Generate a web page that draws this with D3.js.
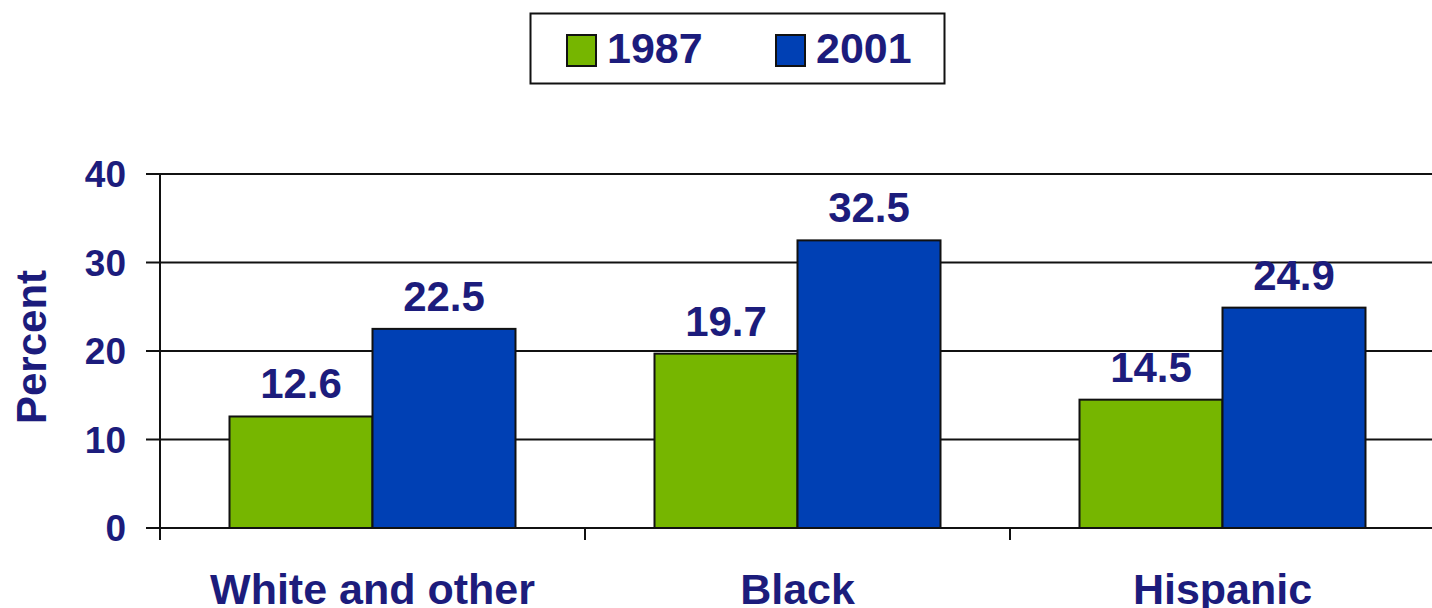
<!DOCTYPE html>
<html><head><meta charset="utf-8">
<script src="https://cdn.jsdelivr.net/npm/d3@7"></script>
<style>
html,body{margin:0;padding:0;background:#fff;}
svg{display:block;font-family:Arial,"Liberation Sans",sans-serif;font-weight:bold;}
</style></head>
<body><svg id="c" width="1432" height="608"></svg>
<script>
const categories = ["White and other", "Black", "Hispanic"];
const seriesNames = ["1987", "2001"];
const values1987 = [12.6, 19.7, 14.5];
const values2001 = [22.5, 32.5, 24.9];
const yTicks = [0, 10, 20, 30, 40];
const colors = ["#76B600", "#0040B4"];
const textColor = "#1C1C7C";

const svg = d3.select("#c");
const plotLeft = 160, plotRight = 1435, plotTop = 174, plotBottom = 528;

const x = d3.scaleBand().domain(categories).range([plotLeft, plotRight]).padding(0);
const y = d3.scaleLinear().domain([0, 40]).range([plotBottom, plotTop]);
const inner = d3.scaleBand().domain(seriesNames).range([69.5, x.bandwidth() - 69.5]).padding(0);

// gridlines
svg.append("g").selectAll("line").data(yTicks).join("line")
  .attr("x1", plotLeft - 14).attr("x2", 1432)
  .attr("y1", d => y(d)).attr("y2", d => y(d))
  .attr("stroke", "#111").attr("stroke-width", 2);

// y axis line
svg.append("line").attr("x1", plotLeft).attr("x2", plotLeft)
  .attr("y1", plotTop).attr("y2", plotBottom + 12)
  .attr("stroke", "#111").attr("stroke-width", 2);

// x category ticks
svg.append("g").selectAll("line").data(categories.slice(1)).join("line")
  .attr("x1", d => x(d)).attr("x2", d => x(d))
  .attr("y1", plotBottom).attr("y2", plotBottom + 12)
  .attr("stroke", "#111").attr("stroke-width", 2);

// y tick labels
svg.append("g").selectAll("text").data(yTicks).join("text")
  .attr("x", 126).attr("y", d => y(d)).attr("dy", "0.36em")
  .attr("text-anchor", "end").attr("fill", textColor)
  .style("font-size", "37px").text(d => d);

// bars
const data = categories.map((c, i) => ({c, vals: [values1987[i], values2001[i]]}));
const groups = svg.append("g").selectAll("g").data(data).join("g")
  .attr("transform", d => `translate(${x(d.c)},0)`);
groups.selectAll("rect").data(d => d.vals.map((v, j) => ({v, s: seriesNames[j], j}))).join("rect")
  .attr("x", d => inner(d.s)).attr("width", inner.bandwidth())
  .attr("y", d => y(d.v)).attr("height", d => y(0) - y(d.v))
  .attr("fill", d => colors[d.j]).attr("stroke", "#111").attr("stroke-width", 2);
groups.selectAll("text").data(d => d.vals.map((v, j) => ({v, s: seriesNames[j], j}))).join("text")
  .attr("x", d => inner(d.s) + inner.bandwidth() / 2).attr("y", d => y(d.v) - 18)
  .attr("text-anchor", "middle").attr("fill", textColor)
  .style("font-size", "42px").text(d => d.v.toFixed(1));

// category labels
svg.append("g").selectAll("text").data(categories).join("text")
  .attr("x", d => x(d) + x.bandwidth() / 2).attr("y", 604)
  .attr("text-anchor", "middle").attr("fill", textColor)
  .style("font-size", "43px").text(d => d);

// y axis title
svg.append("text").attr("transform", "translate(46,347) rotate(-90)")
  .attr("text-anchor", "middle").attr("fill", textColor)
  .style("font-size", "42px").text("Percent");

// legend
const lg = svg.append("g");
lg.append("rect").attr("x", 530.5).attr("y", 13.5).attr("width", 414).attr("height", 70)
  .attr("fill", "#fff").attr("stroke", "#111").attr("stroke-width", 2);
const legX = [567, 776];
seriesNames.forEach((s, i) => {
  lg.append("rect").attr("x", legX[i]).attr("y", 35).attr("width", 29).attr("height", 31)
    .attr("fill", colors[i]).attr("stroke", "#111").attr("stroke-width", 2);
  lg.append("text").attr("x", legX[i] + 40).attr("y", 63).attr("fill", textColor)
    .style("font-size", "43px").text(s);
});
</script></body></html>
